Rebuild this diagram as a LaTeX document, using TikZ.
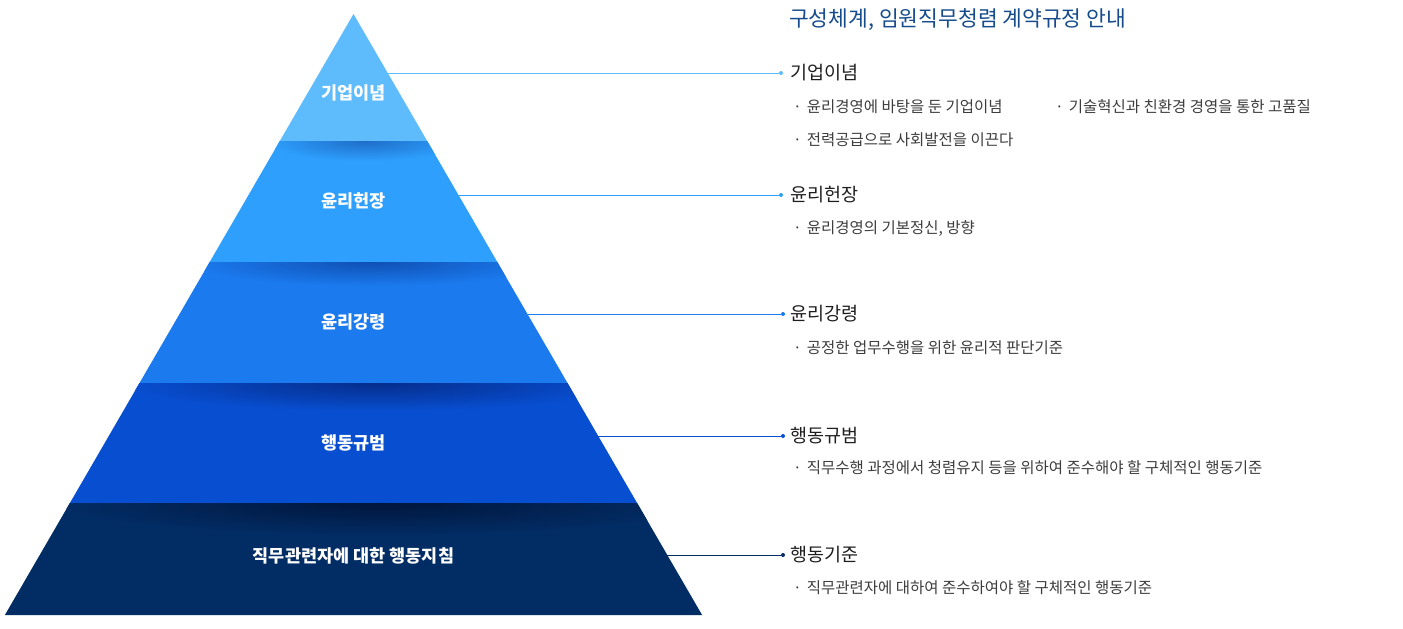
\documentclass[tikz,border=0pt]{standalone}
\usepackage{fontspec}
\setmainfont{Noto Sans CJK KR}
\definecolor{L1}{RGB}{94,187,252}
\definecolor{L2}{RGB}{46,159,253}
\definecolor{L3}{RGB}{27,122,238}
\definecolor{L4}{RGB}{8,78,208}
\definecolor{L5}{RGB}{2,44,100}
\definecolor{S2}{RGB}{30,110,200}
\definecolor{S3}{RGB}{15,80,180}
\definecolor{S4}{RGB}{5,45,140}
\definecolor{S5}{RGB}{1,22,60}
\definecolor{titleblue}{RGB}{22,75,140}
\definecolor{headc}{RGB}{30,30,30}
\definecolor{bodyc}{RGB}{60,60,60}
\tikzset{
  layerlabel/.style={text=white, font=\bfseries\fontsize{17.5}{20}\selectfont},
  heading/.style={anchor=west, text=headc, font=\fontsize{18.5}{22}\selectfont, inner sep=0pt},
  bullet/.style={anchor=west, text=bodyc, font=\fontsize{15.5}{18}\selectfont, inner sep=0pt},
  dotnode/.style={circle, inner sep=0pt, minimum size=4pt},
  conn/.style={line width=1pt},
}
\newcommand{\bul}{·\hspace{5pt}}
\begin{document}
\begin{tikzpicture}[x=1pt,y=-1pt]
\useasboundingbox (0,0) rectangle (1403,629);
% layers
\fill[L1] (353.5,14) -- (427.2,141) -- (279.8,141) -- cycle;
\fill[L2] (279.8,141) -- (427.2,141) -- (497.3,262) -- (209.7,262) -- cycle;
\fill[L3] (209.7,262) -- (497.3,262) -- (567.5,383) -- (139.5,383) -- cycle;
\fill[L4] (139.5,383) -- (567.5,383) -- (637.1,503) -- (69.9,503) -- cycle;
\fill[L5] (69.9,503) -- (637.1,503) -- (702.1,615) -- (4.9,615) -- cycle;
% shadows
\begin{scope}
\clip (279.8,141) -- (427.2,141) -- (497.3,262) -- (209.7,262) -- cycle;
\shade[inner color=S2, outer color=L2] (365,141) ellipse (100 and 20);
\end{scope}
\begin{scope}
\clip (209.7,262) -- (497.3,262) -- (567.5,383) -- (139.5,383) -- cycle;
\shade[inner color=S3, outer color=L3] (370,262) ellipse (180 and 24);
\end{scope}
\begin{scope}
\clip (139.5,383) -- (567.5,383) -- (637.1,503) -- (69.9,503) -- cycle;
\shade[inner color=S4, outer color=L4] (375,383) ellipse (250 and 28);
\end{scope}
\begin{scope}
\clip (69.9,503) -- (637.1,503) -- (702.1,615) -- (4.9,615) -- cycle;
\shade[inner color=S5, outer color=L5] (380,503) ellipse (320 and 32);
\end{scope}
% layer labels
\node[layerlabel] (p1) at (353.5,93) {기업이념};
\node[layerlabel] (p2) at (353.5,201) {윤리헌장};
\node[layerlabel] (p3) at (353.5,322) {윤리강령};
\node[layerlabel] (p4) at (353.5,443) {행동규범};
\node[layerlabel] (p5) at (353.5,556) {직무관련자에 대한 행동지침};
% edge points
\coordinate (e1) at (387.7,73);
\coordinate (e2) at (458.5,195);
\coordinate (e3) at (527.5,314);
\coordinate (e4) at (598.3,436);
\coordinate (e5) at (667.3,555);
% dots
\node[dotnode, fill=L1] (d1) at (781,73) {};
\node[dotnode, fill=L2] (d2) at (781,195) {};
\node[dotnode, fill=L3] (d3) at (783,314) {};
\node[dotnode, fill=L4] (d4) at (783,436) {};
\node[dotnode, fill=L5] (d5) at (783,555) {};
% connectors
\draw[conn, L1] (e1) -- (d1);
\draw[conn, L2] (e2) -- (d2);
\draw[conn, L3] (e3) -- (d3);
\draw[conn, L4] (e4) -- (d4);
\draw[conn, L5] (e5) -- (d5);
% title
\node[anchor=west, inner sep=0pt, text=titleblue, font=\fontsize{21.5}{25}\selectfont] (title) at (789,20) {구성체계, 임원직무청렴 계약규정 안내};
% headings
\node[heading] (h1) at (790,73) {기업이념};
\node[heading] (h2) at (790,195) {윤리헌장};
\node[heading] (h3) at (790,314) {윤리강령};
\node[heading] (h4) at (790,436) {행동규범};
\node[heading] (h5) at (790,555) {행동기준};
% bullets
\node[bullet] (b1a) at (793,107) {\bul 윤리경영에 바탕을 둔 기업이념};
\node[bullet] (b1b) at (1055,107) {\bul 기술혁신과 친환경 경영을 통한 고품질};
\node[bullet] (b1c) at (793,140) {\bul 전력공급으로 사회발전을 이끈다};
\node[bullet] (b2) at (793,229) {\bul 윤리경영의 기본정신, 방향};
\node[bullet] (b3) at (793,348) {\bul 공정한 업무수행을 위한 윤리적 판단기준};
\node[bullet] (b4) at (793,468) {\bul 직무수행 과정에서 청렴유지 등을 위하여 준수해야 할 구체적인 행동기준};
\node[bullet] (b5) at (793,588) {\bul 직무관련자에 대하여 준수하여야 할 구체적인 행동기준};
\end{tikzpicture}
\end{document}
